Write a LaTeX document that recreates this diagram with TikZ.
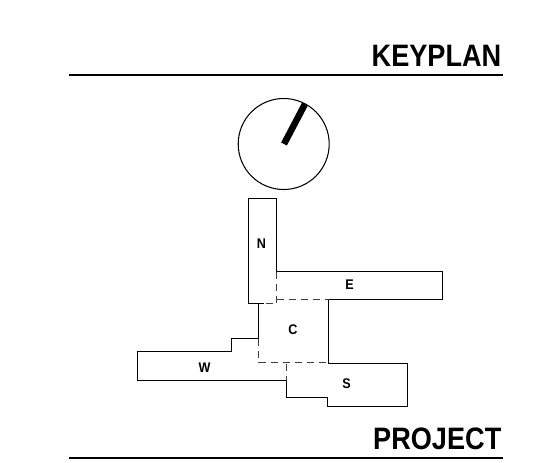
\documentclass[tikz,border=0pt]{standalone}
\usepackage{fontspec}
\setmainfont{Liberation Sans}
\tikzset{
  solidline/.style={draw=black,line width=1.05pt,line join=miter},
  dashline/.style={draw=black!75,line width=1.05pt,dash pattern=on 7pt off 5pt},
  rulebar/.style={draw=black,line width=2.2pt},
  heading/.style={inner sep=0pt,anchor=south east,xscale=.875,font=\fontsize{31}{31}\selectfont\bfseries},
  wing/.style={inner sep=0pt,xscale=.9,font=\fontsize{14}{14}\selectfont\bfseries}
}
\begin{document}
\begin{tikzpicture}[x=1pt,y=-1pt]
\useasboundingbox[fill=white] (0,0) rectangle (554,463);
% headings
\node[heading] (keyplan) at (501.5,67) {KEYPLAN};
\draw[rulebar] (69,75) -- (503,75);
\node[heading] (project) at (501.5,449.5) {PROJECT};
\draw[rulebar] (69,458) -- (503,458);
% north dial
\draw[solidline] (283.7,144) circle (45.5);
\draw[draw=black,line width=6.5pt] (284,144) -- (305,104);
\begin{scope}[shift={(0.5,0.5)}]
% wings
\draw[solidline] (263,303) -- (248,303) -- (248,198) -- (276,198) -- (276,271);
\draw[solidline] (276,271) -- (442,271) -- (442,299) -- (328,299) -- (328,363);
\draw[solidline] (258,303) -- (258,338) -- (231,338) -- (231,351) -- (137,351) -- (137,380) -- (286,380);
\draw[solidline] (328,363) -- (407,363) -- (407,406) -- (327,406) -- (327,397) -- (286,397) -- (286,380);
% hidden edges
\draw[dashline] (276,271) -- (276,303) -- (263,303);
\draw[dashline] (276,299) -- (328,299);
\draw[dashline] (258,338) -- (258,362) -- (328,362);
\draw[dashline] (286,363) -- (286,380);
\end{scope}
% labels
\node[wing] (n) at (261.3,243.5) {N};
\node[wing] (e) at (349.5,285) {E};
\node[wing] (c) at (293,329.5) {C};
\node[wing] (w) at (204.5,367.5) {W};
\node[wing] (s) at (346.5,383.5) {S};
\end{tikzpicture}
\end{document}
